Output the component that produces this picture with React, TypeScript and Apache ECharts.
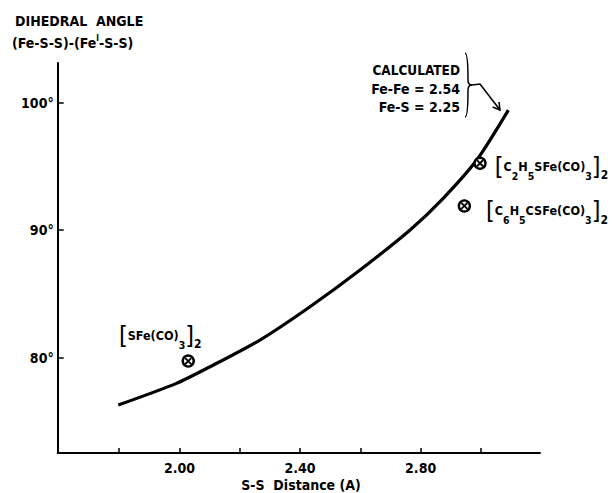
import React, { useEffect, useRef } from "react";
import * as echarts from "echarts";

// Calculated curve (S-S distance in Å, dihedral angle in degrees)
const curveX = [1.797, 1.99, 2.101, 2.267, 2.433, 2.599, 2.765, 2.875, 2.986, 3.091];
const curveY = [76.29, 77.99, 79.29, 81.39, 84.0, 86.88, 90.02, 92.5, 95.5, 99.42];

// Observed compounds
const pointNames = ["SFe", "C2H5", "C6H5"];
const pointX = [2.029, 2.997, 2.945];
const pointY = [79.74, 95.25, 91.9];

const xTicks = [1.8, 2.0, 2.2, 2.4, 2.6, 2.8, 3.0];
const xLabels = [2.0, 2.4, 2.8];
const yTicks = [80, 90, 100];

const FONT = "'DejaVu Sans Condensed', 'DejaVu Sans', sans-serif";
const W = "bold";

const rich = {
  b: { fontFamily: FONT, fontSize: 25, fontWeight: "normal", color: "#000", lineHeight: 30, verticalAlign: "middle" },
  t: { fontFamily: FONT, fontSize: 12.5, fontWeight: W, color: "#000", lineHeight: 18, verticalAlign: "middle" },
  s: { fontFamily: FONT, fontSize: 10.5, fontWeight: W, color: "#000", lineHeight: 10, verticalAlign: "bottom" },
  s2: { fontFamily: FONT, fontSize: 12, fontWeight: W, color: "#000", lineHeight: 6, verticalAlign: "bottom" },
};

const labelTexts: Record<string, string> = {
  SFe: "{b|[}{t|SFe(CO)}{s|3}{b|]}{s2|2}",
  C2H5: "{b|[}{t|C}{s|2}{t|H}{s|5}{t|SFe(CO)}{s|3}{b|]}{s2|2}",
  C6H5: "{b|[}{t|C}{s|6}{t|H}{s|5}{t|CSFe(CO)}{s|3}{b|]}{s2|2}",
};

const labelPos: Record<string, any> = {
  SFe: { position: "top", distance: 4, offset: [-28, 0] },
  C2H5: { position: "right", distance: 8, offset: [0, 3] },
  C6H5: { position: "right", distance: 15, offset: [0, 5] },
};

export default function App() {
  const ref = useRef<HTMLDivElement>(null);
  useEffect(() => {
    if (!ref.current) return;
    const chart = echarts.init(ref.current, undefined, { renderer: "svg" });
    const axisLine = { show: true, lineStyle: { color: "#000", width: 2 } };
    const txt = (text: string, x: number, y: number, size: number, align = "right") => ({
      type: "text",
      x,
      y,
      style: { text, fontFamily: FONT, fontWeight: W, fontSize: size, fill: "#000", align, verticalAlign: "middle" },
    });
    chart.setOption({
      animation: false,
      backgroundColor: "#fff",
      grid: { left: 57.7, right: 72, top: 63, bottom: 40 },
      xAxis: {
        type: "value",
        min: 1.596,
        max: 3.196,
        axisLine,
        splitLine: { show: false },
        axisTick: { show: true, inside: true, length: 5, customValues: xTicks, lineStyle: { color: "#000", width: 1.5 } },
        axisLabel: {
          customValues: xLabels,
          formatter: (v: number) => v.toFixed(2),
          fontFamily: FONT,
          fontWeight: W,
          fontSize: 14,
          color: "#000",
          margin: 8,
        },
      },
      yAxis: {
        type: "value",
        min: 72.53,
        max: 103.11,
        axisLine,
        splitLine: { show: false },
        axisTick: { show: true, inside: true, length: 6, customValues: yTicks, lineStyle: { color: "#000", width: 1.5 } },
        axisLabel: {
          customValues: yTicks,
          formatter: (v: number) => v + "°",
          fontFamily: FONT,
          fontWeight: W,
          fontSize: 14,
          color: "#000",
          margin: 4,
        },
      },
      series: [
        {
          type: "line",
          data: curveX.map((x, i) => [x, curveY[i]]),
          smooth: 0.25,
          showSymbol: false,
          symbol: "none",
          lineStyle: { color: "#000", width: 3.2 },
          z: 2,
        },
        {
          type: "scatter",
          symbol: "circle",
          symbolSize: 11,
          itemStyle: { color: "#fff", borderColor: "#000", borderWidth: 2.4, opacity: 1 },
          data: pointNames.map((n, i) => ({
            value: [pointX[i], pointY[i]],
            label: {
              show: true,
              formatter: labelTexts[n],
              rich,
              ...labelPos[n],
            },
          })),
          z: 3,
        },
        {
          type: "scatter",
          symbol: "path://M0,0L10,10M10,0L0,10",
          symbolSize: 6,
          itemStyle: { color: "none", borderColor: "#000", borderWidth: 1.8, opacity: 1 },
          data: pointNames.map((n, i) => [pointX[i], pointY[i]]),
          z: 4,
        },
      ],
      graphic: [
        {
          type: "text",
          left: 15,
          top: 14,
          style: { text: "DIHEDRAL  ANGLE", fontFamily: FONT, fontWeight: W, fontSize: 14, fill: "#000" },
        },
        {
          type: "text",
          left: 12,
          top: 34,
          style: {
            text: "(Fe-S-S)-(Fe{sup|I}-S-S)",
            fontFamily: FONT,
            fontWeight: W,
            fontSize: 14,
            fill: "#000",
            rich: {
              sup: { fontFamily: FONT, fontWeight: W, fontSize: 8, verticalAlign: "top", lineHeight: 18, fill: "#000" },
            },
          },
        },
        txt("CALCULATED", 460, 70, 13.5),
        txt("Fe-Fe = 2.54", 460, 89, 14),
        txt("Fe-S = 2.25", 460, 107, 14),
        {
          type: "bezierCurve",
          shape: { x1: 465, y1: 53, cpx1: 468, cpy1: 53, cpx2: 468, cpy2: 70, x2: 468, y2: 80 },
          style: { stroke: "#000", lineWidth: 1.5, fill: "none" },
        },
        {
          type: "bezierCurve",
          shape: { x1: 468, y1: 80, cpx1: 468, cpy1: 84, cpx2: 470, cpy2: 85, x2: 472, y2: 85 },
          style: { stroke: "#000", lineWidth: 1.5, fill: "none" },
        },
        {
          type: "bezierCurve",
          shape: { x1: 472, y1: 85, cpx1: 470, cpy1: 85, cpx2: 468, cpy2: 86, x2: 468, y2: 90 },
          style: { stroke: "#000", lineWidth: 1.5, fill: "none" },
        },
        {
          type: "bezierCurve",
          shape: { x1: 468, y1: 90, cpx1: 468, cpy1: 100, cpx2: 468, cpy2: 117, x2: 465, y2: 117 },
          style: { stroke: "#000", lineWidth: 1.5, fill: "none" },
        },
        {
          type: "polyline",
          shape: { points: [[472, 85], [480, 84], [500, 110]] },
          style: { stroke: "#000", lineWidth: 1.6, fill: "none" },
        },
        {
          type: "polyline",
          shape: { points: [[499, 102], [500, 110], [492.6, 107]] },
          style: { stroke: "#000", lineWidth: 1.6, fill: "none" },
        },
        txt("S-S  Distance (A)", 301, 485, 14, "center"),
      ],
    });
    return () => chart.dispose();
  }, []);
  return (
    <div
      ref={ref}
      style={{ position: "absolute", left: 0, top: 0, width: 612, height: 493, background: "#fff" }}
    />
  );
}
